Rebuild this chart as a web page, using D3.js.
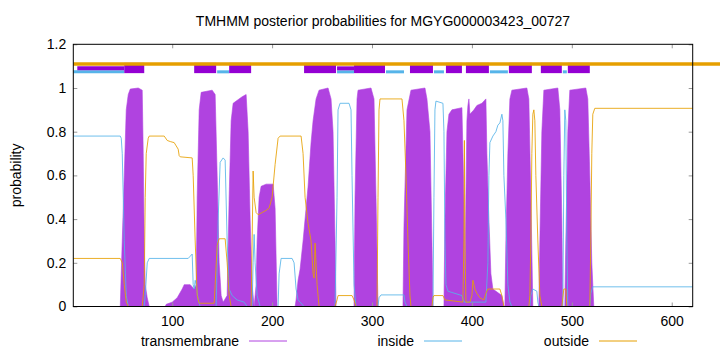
<!DOCTYPE html>
<html>
<head>
<meta charset="utf-8">
<script src="https://cdn.jsdelivr.net/npm/d3@7"></script>
<style>
  body { margin: 0; background: #fff; }
  text { font-family: "Liberation Sans", Arial, sans-serif; fill: #000; }
</style>
</head>
<body>
<div id="chart"></div>
<script>
// posterior probabilities, [residue, value]
var transmembrane = [
  [1,0],[48,0],[50,0.3],[52,0.6],[54,0.9],[56,0.97],[58,0.995],[66,1.0],[70,0.99],[71,0.7],[72,0.3],[73,0.1],[75,0.04],[77,0],
  [93,0],[94,0.01],[100,0.02],[105,0.04],[110,0.08],[112,0.1],[118,0.1],[122,0.08],[124,0.1],[125,0.5],[127,0.9],[129,0.98],
  [140,0.99],[143,0.97],[145,0.6],[147,0.2],[149,0.05],[151,0.02],[155,0.05],[157,0.5],[159,0.85],[161,0.93],[170,0.96],
  [174,0.97],[176,0.8],[178,0.4],[180,0.1],[182,0],[184,0.1],[185,0.3],[187,0.5],[189,0.55],[194,0.56],[201,0.56],[203,0.45],
  [205,0],[223,0],[224,0.03],[226,0.12],[228,0.17],[231,0.3],[234,0.45],[236,0.55],[239,0.75],[241,0.85],[244,0.95],[247,0.99],
  [256,1.0],[259,0.95],[261,0.8],[263,0.3],[264,0],
  [282,0],[283,0.5],[285,0.95],[286,0.99],[299,1.0],[302,0.95],[304,0.5],[306,0],
  [331,0],[332,0.37],[335,0.9],[339,0.99],[353,1.0],[355,0.95],[358,0.8],[360,0.3],[361,0],
  [372,0],[373,0.4],[375,0.8],[377,0.88],[380,0.9],[390,0.91],[392,0.5],[393,0.1],[394,0.5],[395,0.85],[396,0.92],[397,0.95],
  [398,0.88],[402,0.9],[405,0.92],[410,0.93],[414,0.95],[415,0.7],[417,0.4],[419,0.15],[421,0.08],[430,0.05],[432,0],
  [433,0],[434,0.3],[436,0.7],[438,0.95],[440,0.99],[455,1.0],[457,0.95],[459,0.5],[461,0],
  [467,0],[468,0.3],[470,0.8],[472,0.99],[486,1.0],[488,0.9],[490,0.4],[491,0],
  [493,0],[494,0.3],[496,0.8],[498,0.99],[514,1.0],[516,0.95],[518,0.6],[520,0.2],[522,0],[621,0]
];
var inside = [
  [1,0.78],[48,0.78],[49,0.77],[50,0.7],[52,0.3],[54,0.05],[56,0],[72,0],[73,0.05],[75,0.2],[77,0.22],[116,0.22],[118,0.23],
  [120,0.24],[121,0.1],[122,0.08],[123,0.12],[124,0.1],[126,0.03],[128,0],[144,0],[146,0.4],[148,0.66],[151,0.68],[153,0.67],
  [155,0.3],[157,0.08],[160,0.05],[165,0.03],[172,0.02],[175,0],[180,0],[181,0.2],[182,0.33],[183,0.2],[185,0.05],[188,0],
  [206,0],[207,0.15],[209,0.22],[220,0.22],[222,0.2],[224,0.08],[226,0.03],[228,0.02],[232,0],[263,0],[265,0.5],[266,0.9],
  [268,0.93],[277,0.93],[279,0.9],[280,0.6],[282,0.1],[284,0],[306,0],[307,0.04],[309,0.053],[332,0.053],[333,0.02],[335,0],
  [361,0],[362,0.5],[363,0.9],[364,0.94],[371,0.93],[372,0.8],[373,0.3],[374,0.1],[376,0.07],[390,0.05],[392,0.02],[395,0.02],
  [414,0.02],[416,0.2],[417,0.6],[418,0.75],[421,0.78],[424,0.8],[426,0.83],[428,0.84],[430,0.88],[431,0.85],[432,0.6],
  [434,0.4],[436,0.1],[438,0.02],[440,0],[458,0],[459,0.05],[461,0.08],[465,0.07],[466,0.02],[467,0],[491,0],[492,0.6],
  [493,0.9],[494,0.85],[495,0.3],[496,0],[518,0],[519,0.06],[521,0.09],[621,0.09]
];
var outside = [
  [1,0.22],[48,0.22],[50,0.2],[52,0.1],[54,0.02],[56,0],[70,0],[72,0.1],[73,0.5],[74,0.7],[76,0.77],[77,0.78],[92,0.78],
  [95,0.76],[98,0.755],[102,0.75],[104,0.735],[106,0.72],[107,0.69],[108,0.685],[120,0.68],[121,0.6],[123,0.3],[125,0.05],
  [127,0.015],[142,0.015],[143,0.1],[145,0.28],[147,0.31],[153,0.31],[155,0.2],[157,0.05],[159,0],[179,0],[180,0.3],
  [181,0.62],[182,0.5],[184,0.43],[186,0.42],[190,0.43],[194,0.44],[197,0.45],[200,0.5],[203,0.65],[206,0.77],[208,0.78],
  [229,0.78],[231,0.7],[233,0.5],[236,0.38],[239,0.3],[241,0.15],[242,0.13],[243,0.29],[245,0.1],[247,0],
  [263,0],[265,0.03],[266,0.05],[280,0.05],[282,0.03],[284,0],[305,0],[306,0.5],[307,0.9],[308,0.95],[330,0.95],[332,0.85],
  [334,0.6],[336,0.3],[338,0.05],[339,0],[360,0],[361,0.04],[362,0.05],[371,0.05],[373,0.03],[391,0.02],[392,0.3],
  [392.5,0.76],[393,0.3],[394,0.02],[398,0.02],[400,0.05],[401,0.12],[403,0.08],[405,0.06],[408,0.04],[412,0.03],[414,0.06],
  [416,0.08],[428,0.08],[430,0.05],[432,0],[457,0],[458,0.05],[459,0.3],[460,0.7],[461,0.88],[462,0.9],[463,0.85],[464,0.6],
  [466,0.3],[468,0.05],[470,0],[490,0],[491,0.04],[492,0.08],[494,0.08],[495,0],[518,0],[519,0.3],[520,0.7],[521,0.88],
  [523,0.907],[621,0.907]
];

// predicted topology strip above the curves
var tmSegments = [[52,72],[122,144],[157,179],[232,264],[282,313],[338,361],[374,390],[394,417],[437,460],[469,490],[496,518]];
var insideSegments = [[1,52],[145,157],[265,282],[314,332],[362,372],[418,436],[491,495]];
var tmThinSegments = [[5,52],[265,282]];
var outsideSegments = [[1,650]];

var xTicks = [100,200,300,400,500,600];
var yTicks = [0,0.2,0.4,0.6,0.8,1,1.2];

var W = 720, H = 352;
var cPurple = "#b043e0", cDark = "#9400d3", cCyan = "#56b4e9", cOrange = "#e69f00";

var svg = d3.select("#chart").append("svg")
  .attr("width", W).attr("height", H);

var x = d3.scaleLinear().domain([1,621]).range([73.3,692.7]);
var y = d3.scaleLinear().domain([0,1.2]).range([306.5,44.3]);

svg.append("clipPath").attr("id","clip")
  .append("rect").attr("x",x(1)).attr("y",y(1.2)).attr("width",x(621)-x(1)).attr("height",y(0)-y(1.2));

var plot = svg.append("g").attr("clip-path","url(#clip)");

var area = d3.area()
  .x(function(d){ return x(d[0]); })
  .y0(y(0))
  .y1(function(d){ return y(d[1]); });
var line = d3.line()
  .x(function(d){ return x(d[0]); })
  .y(function(d){ return y(d[1]); });

plot.append("path").attr("d", area(transmembrane))
  .style("fill", cPurple).style("stroke", cPurple).style("stroke-width", 0.6);
plot.append("path").attr("d", line(inside))
  .style("fill","none").style("stroke", cCyan).style("stroke-width", 0.85);
plot.append("path").attr("d", line(outside))
  .style("fill","none").style("stroke", cOrange).style("stroke-width", 0.85);

// topology strip
svg.selectAll(".ins").data(insideSegments).enter().append("line")
  .attr("x1", function(d){ return x(d[0]); }).attr("x2", function(d){ return x(d[1]); })
  .attr("y1", y(1.074)).attr("y2", y(1.074))
  .style("stroke", cCyan).style("stroke-width", 3);
svg.selectAll(".tmthin").data(tmThinSegments).enter().append("line")
  .attr("x1", function(d){ return x(d[0]); }).attr("x2", function(d){ return x(d[1]); })
  .attr("y1", y(1.09)).attr("y2", y(1.09))
  .style("stroke", cDark).style("stroke-width", 4);
svg.selectAll(".tmbox").data(tmSegments).enter().append("rect")
  .attr("x", function(d){ return x(d[0]); })
  .attr("width", function(d){ return x(d[1]) - x(d[0]); })
  .attr("y", y(1.115)).attr("height", y(1.068) - y(1.115))
  .style("fill", cDark);
svg.selectAll(".outs").data(outsideSegments).enter().append("line")
  .attr("x1", function(d){ return x(d[0]); }).attr("x2", function(d){ return x(d[1]); })
  .attr("y1", y(1.11)).attr("y2", y(1.11))
  .style("stroke", cOrange).style("stroke-width", 3.6);

// axes
var xAxis = svg.append("g").attr("transform","translate(0," + y(0) + ")")
  .call(d3.axisBottom(x).tickValues(xTicks).tickSize(-4).tickPadding(10));
var xAxisTop = svg.append("g").attr("transform","translate(0," + y(1.2) + ")")
  .call(d3.axisTop(x).tickValues(xTicks).tickSize(-4).tickFormat(""));
var yAxis = svg.append("g").attr("transform","translate(" + x(1) + ",0)")
  .call(d3.axisLeft(y).tickValues(yTicks).tickSize(-4).tickPadding(7).tickFormat(d3.format("~g")));
var yAxisRight = svg.append("g").attr("transform","translate(" + x(621) + ",0)")
  .call(d3.axisRight(y).tickValues(yTicks).tickSize(-4).tickFormat(""));

svg.selectAll(".domain").remove();
svg.selectAll(".tick line").style("stroke","#999").style("stroke-width",1);
svg.selectAll(".tick text").style("font-size","14px").style("font-family","'Liberation Sans', Arial, sans-serif");

svg.append("rect")
  .attr("x", x(1)).attr("y", y(1.2))
  .attr("width", x(621)-x(1)).attr("height", y(0)-y(1.2))
  .style("fill","none").style("stroke","#000").style("stroke-width",1);

// title and labels
svg.append("text").attr("x", (x(1)+x(621))/2).attr("y", 26)
  .attr("text-anchor","middle").style("font-size","14px")
  .text("TMHMM posterior probabilities for MGYG000003423_00727");
svg.append("text").attr("transform","translate(21," + (y(0.6)) + ") rotate(-90)")
  .attr("text-anchor","middle").style("font-size","14px")
  .text("probability");

// legend
var legend = [
  {name:"transmembrane", color:cPurple, tx:239, lx:249},
  {name:"inside", color:cCyan, tx:414, lx:424},
  {name:"outside", color:cOrange, tx:589, lx:599}
];
var lg = svg.selectAll(".lg").data(legend).enter().append("g");
lg.append("text").attr("x", function(d){ return d.tx; }).attr("y", 346)
  .attr("text-anchor","end").style("font-size","14px")
  .text(function(d){ return d.name; });
lg.append("line").attr("x1", function(d){ return d.lx; }).attr("x2", function(d){ return d.lx + 38; })
  .attr("y1", 341).attr("y2", 341)
  .style("stroke", function(d){ return d.color; }).style("stroke-width", 1);
</script>
</body>
</html>
